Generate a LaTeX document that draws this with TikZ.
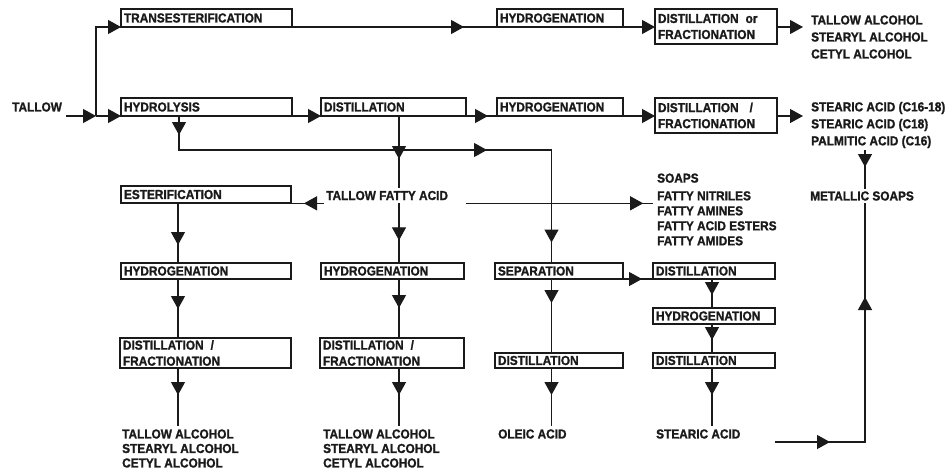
\documentclass[tikz,border=0pt]{standalone}
\usepackage{fontspec}
\newfontfamily\diafont[FakeStretch=0.91,FakeBold=1.2]{Liberation Sans}
\usetikzlibrary{arrows.meta,decorations.markings,calc}
\definecolor{ink}{HTML}{1A1A1A}
\begin{document}
\begin{tikzpicture}[x=1pt,y=-1pt,
  every node/.style={font=\diafont\bfseries\fontsize{13}{15}\selectfont, text=ink},
  box/.style 2 args={draw=ink, line width=1.5pt, rectangle, anchor=north west, outer sep=0pt,
     minimum height=#2, inner xsep=3pt, inner ysep=0pt, align=left,
     /utils/exec={\pgfmathsetlengthmacro\boxtw{#1-6pt}}, text width=\boxtw},
  lbl/.style={inner sep=0pt, align=left, anchor=west},
  conn/.style={draw=ink, line width=1.2pt},
  endtip/.style={-{Triangle[length=13pt,width=14pt]}},
  tip/.style={postaction={decorate,decoration={markings,mark=at position #1 with {\arrow{Triangle[length=13pt,width=14pt]}}}}},
]
\useasboundingbox[fill=white] (0,0) rectangle (952,474);

% boxes
\node[box={171pt}{18pt}] (trans) at (121,9) {TRANSESTERIFICATION};
\node[box={126pt}{18pt}] (hyd1) at (497,9) {HYDROGENATION};
\node[box={122pt}{35pt}] (df1) at (655,9) {DISTILLATION\hspace{7pt}or\\[1pt]FRACTIONATION};
\node[box={171pt}{18pt}] (hydro) at (121,98) {HYDROLYSIS};
\node[box={145pt}{18pt}] (dist1) at (321,98) {DISTILLATION};
\node[box={126pt}{18pt}] (hyd2) at (497,98) {HYDROGENATION};
\node[box={122pt}{35pt}] (df2) at (655,98) {DISTILLATION\hspace{11pt}/\\[1pt]FRACTIONATION};
\node[box={170pt}{17pt}] (ester) at (121,186) {ESTERIFICATION};
\node[box={170pt}{16pt}] (hyd3) at (121,263) {HYDROGENATION};
\node[box={143pt}{16pt}] (hyd4) at (321,263) {HYDROGENATION};
\node[box={128pt}{16pt}] (sep) at (495,263) {SEPARATION};
\node[box={122pt}{16pt}] (dist2) at (653,263) {DISTILLATION};
\node[box={122pt}{16pt}] (hyd5) at (653,308) {HYDROGENATION};
\node[box={171pt}{30pt}] (df3) at (120,338) {DISTILLATION\hspace{7pt}/\\[1pt]FRACTIONATION};
\node[box={144pt}{30pt}] (df4) at (320,338) {DISTILLATION\hspace{7pt}/\\[1pt]FRACTIONATION};
\node[box={128pt}{15pt}] (dist3) at (495,353) {DISTILLATION};
\node[box={122pt}{15pt}] (dist4) at (653,353) {DISTILLATION};

% labels
\node[lbl] (tallow) at (12,107) {TALLOW};
\node[lbl] (out1) at (811,37) {TALLOW ALCOHOL\\[2pt]STEARYL ALCOHOL\\[2pt]CETYL ALCOHOL};
\node[lbl] (out2) at (811,125) {STEARIC ACID (C16-18)\\[2pt]STEARIC ACID (C18)\\[2pt]PALMITIC ACID (C16)};
\node[inner xsep=2pt, inner ysep=3pt, anchor=base west] (tfa) at (324,200) {TALLOW FATTY ACID};
\node[lbl] (soaps) at (657,209.5) {SOAPS\\[2.7pt]FATTY NITRILES\\FATTY AMINES\\FATTY ACID ESTERS\\FATTY AMIDES};
\node[lbl, inner ysep=2.5pt] (metal) at (810,196) {METALLIC SOAPS};
\node[lbl, font=\diafont\bfseries\fontsize{13}{14.5}\selectfont] (alc1) at (122,448.5) {TALLOW ALCOHOL\\STEARYL ALCOHOL\\CETYL ALCOHOL};
\node[lbl, font=\diafont\bfseries\fontsize{13}{14.5}\selectfont] (alc2) at (323,448.5) {TALLOW ALCOHOL\\STEARYL ALCOHOL\\CETYL ALCOHOL};
\node[lbl] (oleic) at (498,434) {OLEIC ACID};
\node[lbl] (stearic) at (656,434) {STEARIC ACID};

% free ends
\coordinate (t0) at (66,116);
\coordinate (br) at (96,116);
\coordinate (o1) at (803,27);
\coordinate (o2) at (803,116);
\coordinate (a1) at (178,426);
\coordinate (m0) at (865,150);
\coordinate (s0) at (775,442);

% connectors: top rows
\draw[conn,endtip] (t0) -- (br);
\draw[conn,endtip] (br) -- (hydro.south west);
\draw[conn,endtip] (br) |- (trans.south west);
\draw[conn,tip=172pt] (trans.south east) -- (hyd1.south west);
\draw[conn,endtip] (hyd1.south east) -- (hyd1.south east -| df1.west);
\draw[conn,endtip] (hyd1.south east -| df1.east) -- (o1);
\draw[conn,endtip] (hydro.south east) -- (dist1.south west);
\draw[conn,tip=22pt] (dist1.south east) -- (hyd2.south west);
\draw[conn,endtip] (hyd2.south east) -- (hyd2.south east -| df2.west);
\draw[conn,endtip] (hyd2.south east -| df2.east) -- (o2);

% hydrolysis to separation
\draw[conn,tip=19pt,tip=342pt,tip=499pt] ([xshift=58pt]hydro.south west) -- ++(0,34) -| ([xshift=56.5pt]sep.north west);

% distillation to tallow fatty acid
\draw[conn,tip=43pt] ([xshift=78pt]dist1.south west) coordinate (d1) -- (d1 |- tfa.north);
\draw[conn,tip=37pt] (d1 |- tfa.south) -- (d1 |- hyd4.north);
\draw[conn,tip=20pt] (tfa.south west) -- (tfa.south west -| ester.east);
\draw[conn,tip=177pt] ([xshift=16pt]tfa.south east) -- ([xshift=-4pt]soaps.west |- tfa.south);

% left column
\draw[conn,tip=42pt] ([xshift=57pt]ester.south west) coordinate (c1) -- (c1 |- hyd3.north);
\draw[conn,tip=30pt] (c1 |- hyd3.south) -- (c1 |- df3.north);
\draw[conn,tip=27pt] (c1 |- df3.south) -- (a1);

% middle column
\draw[conn,tip=29pt] (d1 |- hyd4.south) -- (d1 |- df4.north);
\draw[conn,tip=27pt] (d1 |- df4.south) -- (d1 |- a1);

% separation column
\draw[conn,tip=24pt] ([xshift=56.5pt]sep.south west) coordinate (c3) -- (c3 |- dist3.north);
\draw[conn,tip=27pt] (c3 |- dist3.south) -- (c3 |- a1);
\draw[conn,tip=19pt] (sep.south east) -- (dist2.south west);

% right column
\draw[conn,tip=16pt] ([xshift=59pt]dist2.south west) coordinate (c4) -- (c4 |- hyd5.north);
\draw[conn,tip=16pt] (c4 |- hyd5.south) -- (c4 |- dist4.north);
\draw[conn,tip=27pt] (c4 |- dist4.south) -- (c4 |- a1);

% metallic soaps
\draw[conn,tip=17pt] (m0) -- (m0 |- metal.north);
\draw[conn,tip=55pt,tip=235pt] (s0) -| (metal.south -| m0);
\end{tikzpicture}
\end{document}
